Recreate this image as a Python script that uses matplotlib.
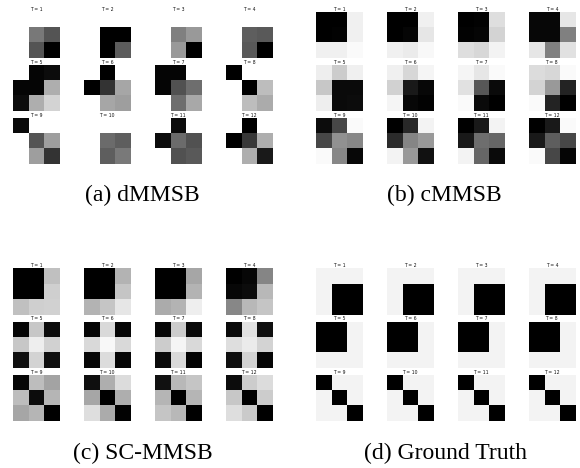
import numpy as np
import matplotlib
matplotlib.use("Agg")
import matplotlib.pyplot as plt

W, H = 580, 468

time_labels = [f"T = {i}" for i in range(1, 13)]
captions = ["(a) dMMSB", "(b) cMMSB", "(c) SC-MMSB", "(d) Ground Truth"]

dmmsb = [
    [[1, 1, 1], [1, .47, .33], [1, .33, 0]],
    [[1, 1, 1], [1, 0, 0], [1, 0, .36]],
    [[1, 1, 1], [1, .5, .6], [1, .6, 0]],
    [[1, 1, 1], [1, .37, .35], [1, .35, 0]],
    [[1, .02, .05], [.02, .02, .68], [.05, .68, .83]],
    [[1, 0, 1], [0, .2, .65], [1, .65, .62]],
    [[.02, .02, 1], [.02, .32, .43], [1, .43, .66]],
    [[0, 1, 1], [1, 0, .74], [1, .74, .67]],
    [[.04, 1, 1], [1, .33, .62], [1, .62, .2]],
    [[1, 1, 1], [1, .42, .37], [1, .37, .48]],
    [[1, .05, 1], [.05, .42, .32], [1, .32, .35]],
    [[1, 0, 1], [0, .22, .68], [1, .68, .1]],
]
cmmsb = [
    [[0, 0, .94], [0, .01, .94], [.94, .94, .98]],
    [[0, 0, .94], [0, .02, .9], [.94, .92, .97]],
    [[0, .01, .87], [.01, .02, .83], [.87, .84, .95]],
    [[.03, .03, .9], [.03, .03, .5], [.9, .5, .88]],
    [[.93, .8, .94], [.78, .04, .04], [.93, .04, .05]],
    [[.94, .84, .96], [.82, .1, .03], [.96, .03, .01]],
    [[.96, .9, .98], [.88, .34, .04], [.98, .04, 0]],
    [[.86, .84, .98], [.83, .6, .14], [.98, .14, 0]],
    [[.05, .28, .98], [.28, .57, .53], [.98, .53, .03]],
    [[0, .16, .95], [.17, .52, .6], [.95, .6, .07]],
    [[0, .1, .95], [.1, .43, .4], [.95, .4, .04]],
    [[0, .1, .98], [.1, .37, .28], [.98, .28, .02]],
]
sc_mmsb = [
    [[0, 0, .75], [0, 0, .81], [.75, .81, .82]],
    [[0, 0, .7], [0, 0, .77], [.7, .77, .9]],
    [[0, 0, .65], [0, 0, .7], [.67, .7, .93]],
    [[0, .03, .52], [.03, .05, .72], [.53, .72, .77]],
    [[.02, .78, .05], [.78, .93, .82], [.06, .83, .06]],
    [[.02, .85, .02], [.85, .97, .85], [.03, .86, .02]],
    [[.03, .8, .04], [.8, .96, .85], [.04, .85, .01]],
    [[.04, .88, .06], [.87, .92, .83], [.06, .83, .02]],
    [[.03, .74, .64], [.74, .05, .71], [.65, .71, 0]],
    [[.06, .68, .86], [.65, 0, .68], [.87, .67, .01]],
    [[.07, .72, .77], [.71, 0, .71], [.77, .72, 0]],
    [[.05, .8, .86], [.78, 0, .8], [.87, .79, 0]],
]
gt_a = [[.95, .95, .95], [.95, 0, 0], [.95, 0, 0]]
gt_b = [[0, 0, .95], [0, 0, .95], [.95, .95, .95]]
gt_c = [[0, .95, .95], [.95, 0, .95], [.95, .95, 0]]
ground_truth = [gt_a] * 4 + [gt_b] * 4 + [gt_c] * 4

panels = [dmmsb, cmmsb, sc_mmsb, ground_truth]

col_lefts = [[13, 84, 155, 226], [316.3, 387, 458, 528.7]]
row_tops = [[12, 65, 118], [268.3, 321.7, 375]]
side = 46.3
caption_xy = [(142.5, 201), (444.8, 201), (142.5, 459), (445, 459)]

fig = plt.figure(figsize=(W / 100, H / 100), dpi=100, facecolor="white")

for p, data in enumerate(panels):
    lefts = col_lefts[p % 2]
    tops = row_tops[p // 2]
    for k, m in enumerate(data):
        r, c = k // 4, k % 4
        ax = fig.add_axes([lefts[c] / W, 1 - (tops[r] + side) / H, side / W, side / H])
        ax.imshow(np.array(m), cmap="gray", vmin=0, vmax=1, interpolation="nearest", aspect="auto")
        ax.set_xticks([])
        ax.set_yticks([])
        for s in ax.spines.values():
            s.set_visible(False)
        ax.set_title(time_labels[k], fontsize=3.3, pad=0.9, color="#111111")
    x, y = caption_xy[p]
    fig.text(x / W, 1 - y / H, captions[p], ha="center", va="baseline",
             family="Liberation Serif", fontsize=17, color="black")

fig.savefig("out.png", dpi=100, facecolor="white")
